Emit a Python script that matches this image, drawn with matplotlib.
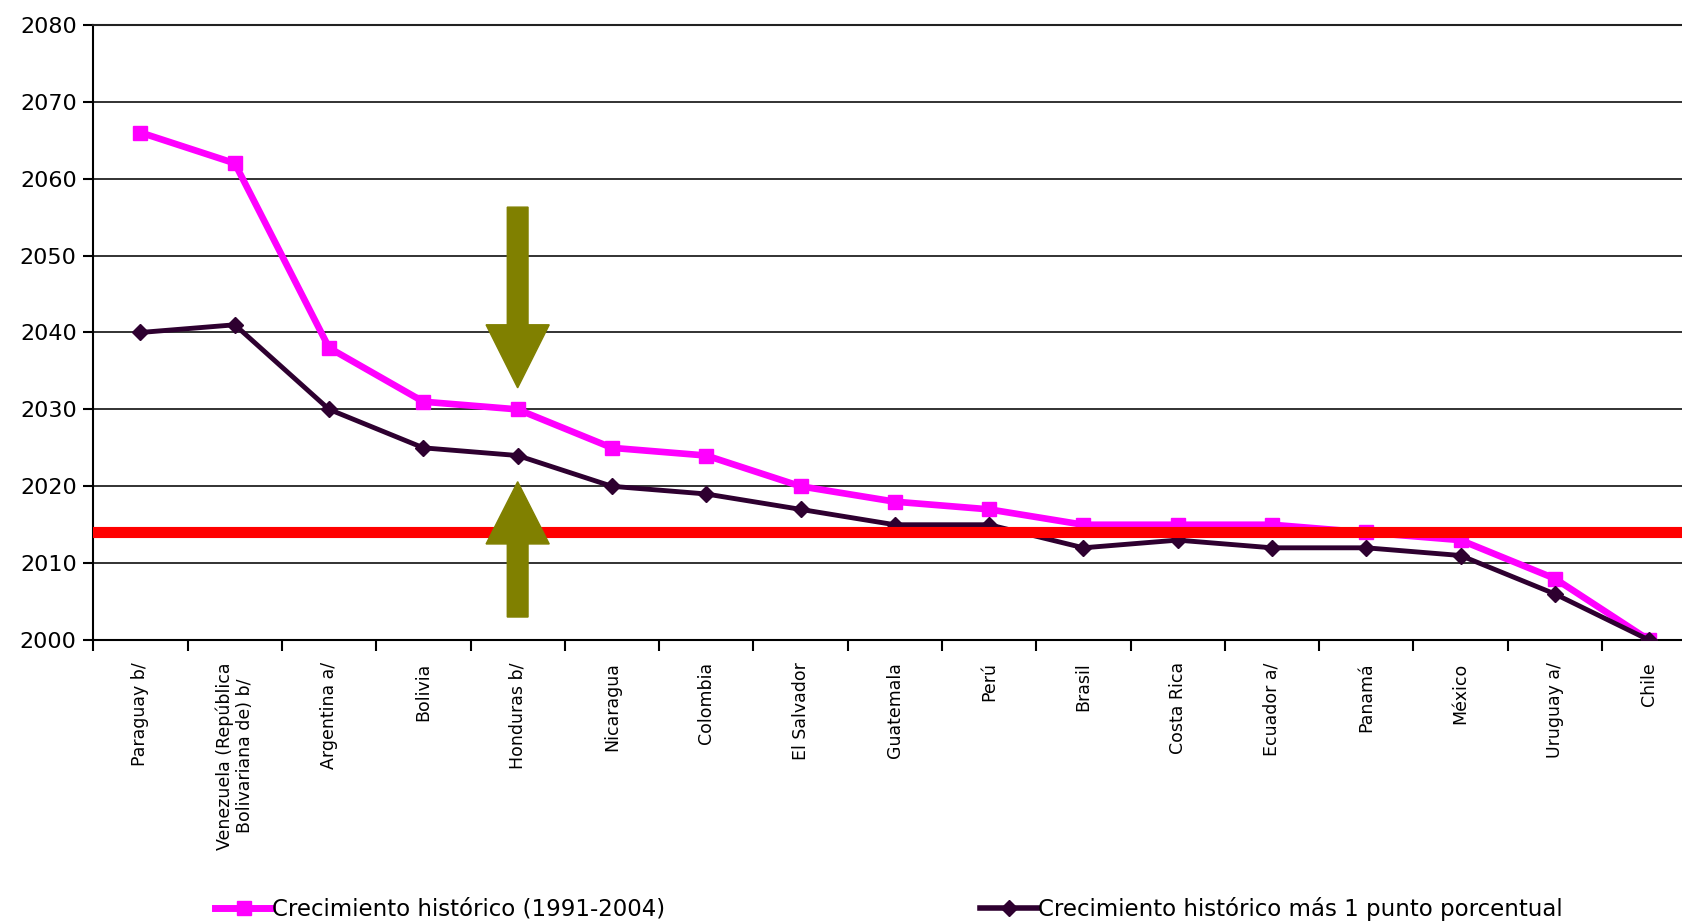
import matplotlib
matplotlib.use("Agg")
import matplotlib.pyplot as plt
import matplotlib.ticker as mticker
from matplotlib.lines import Line2D

plt.rcParams["font.family"] = ["DejaVu Sans"]

countries = [
    "Paraguay b/", "Venezuela (República\nBolivariana de) b/", "Argentina a/",
    "Bolivia", "Honduras b/", "Nicaragua", "Colombia", "El Salvador",
    "Guatemala", "Perú", "Brasil", "Costa Rica", "Ecuador a/", "Panamá",
    "México", "Uruguay a/", "Chile",
]
historico = [2066, 2062, 2038, 2031, 2030, 2025, 2024, 2020, 2018, 2017,
             2015, 2015, 2015, 2014, 2013, 2008, 2000]
historico_mas1 = [2040, 2041, 2030, 2025, 2024, 2020, 2019, 2017, 2015, 2015,
                  2012, 2013, 2012, 2012, 2011, 2006, 2000]
linea_roja = 2014
arrow_x = 4  # Honduras

fig = plt.figure(figsize=(16.82, 9.21), dpi=100)
ax = fig.add_axes([0.0555, 0.305, 0.953, 0.668])

x = list(range(len(countries)))

# grid lines first so data sits on top
ax.set_ylim(2000, 2080)
ax.set_xlim(-0.5, len(countries) - 0.5)
ax.yaxis.set_major_locator(mticker.MultipleLocator(10))
ax.grid(axis="y", color="#222222", linewidth=1.3, zorder=0)

ax.axhline(linea_roja, color="#ff0000", linewidth=8, zorder=4)

ax.plot(x, historico, color="#ff00ff", linewidth=4.8, marker="s",
        markersize=10, zorder=3, label="Crecimiento histórico (1991-2004)")
ax.plot(x, historico_mas1, color="#2e0030", linewidth=3.5, marker="D",
        markersize=8, zorder=3,
        label="Crecimiento histórico más 1 punto porcentual")

# olive arrows pointing at the gap between the two series
ax.arrow(arrow_x, 2056.3, 0, 2032.8 - 2056.3, width=0.22, head_width=0.67,
         head_length=8.2, length_includes_head=True, color="#808000",
         zorder=5)
ax.arrow(arrow_x, 2003.0, 0, 2020.6 - 2003.0, width=0.22, head_width=0.67,
         head_length=8.1, length_includes_head=True, color="#808000",
         zorder=5)

# x axis: labels at categories, tick marks between categories
ax.set_xticks(x)
ax.set_xticklabels(countries, rotation=90, fontsize=12.5, va="top",
                   ha="center", multialignment="center")
ax.tick_params(axis="x", which="major", length=0, pad=16)
ax.set_xticks([i + 0.5 for i in range(-1, len(countries))], minor=True)
ax.tick_params(axis="x", which="minor", length=8, width=1.5, direction="out")
ax.tick_params(axis="y", length=7, width=1.5, labelsize=16, pad=5)

for s in ["left", "bottom", "top"]:
    ax.spines[s].set_linewidth(1.5)
ax.spines["top"].set_color("#222222")
ax.spines["right"].set_visible(False)

h1 = Line2D([], [], color="#ff00ff", linewidth=5, marker="s", markersize=10)
h2 = Line2D([], [], color="#2e0030", linewidth=4, marker="D", markersize=8)
fig.legend([h1], ["Crecimiento histórico (1991-2004)"], loc="lower left",
           bbox_to_anchor=(0.121, -0.012), frameon=False, fontsize=16.5,
           handlelength=2.5, handletextpad=0.0, borderpad=0)
fig.legend([h2], ["Crecimiento histórico más 1 punto porcentual"],
           loc="lower left", bbox_to_anchor=(0.576, -0.012), frameon=False,
           fontsize=16.5, handlelength=2.5, handletextpad=0.0, borderpad=0)

fig.savefig("out.png", dpi=100)
